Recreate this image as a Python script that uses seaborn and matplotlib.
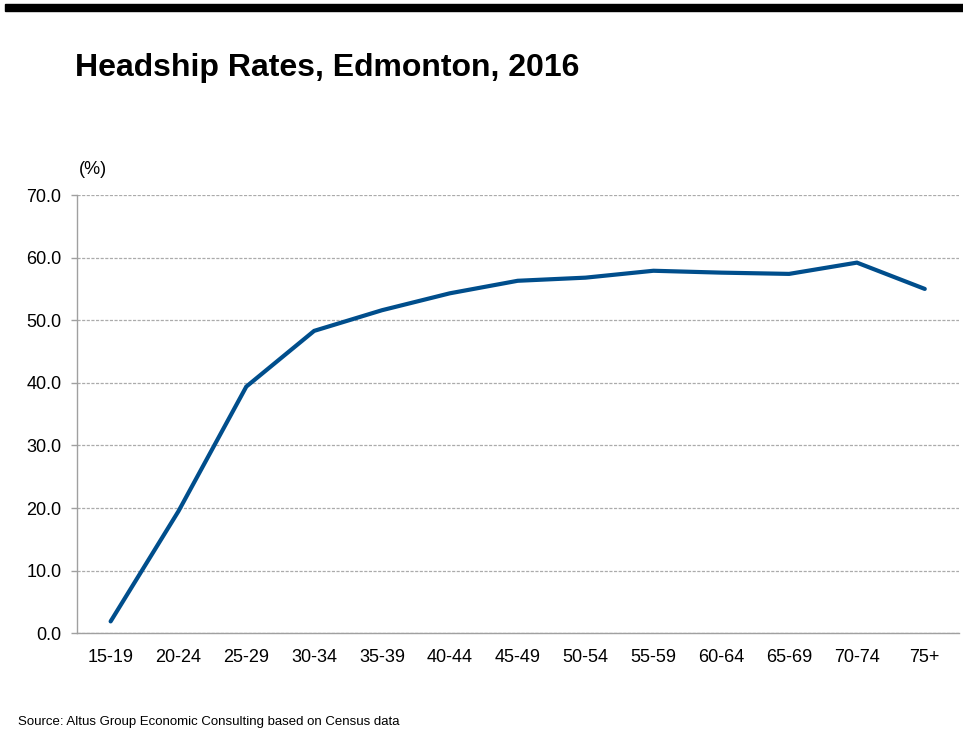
import matplotlib
matplotlib.use("Agg")
import matplotlib.pyplot as plt
from matplotlib.ticker import FixedLocator, MultipleLocator, FormatStrFormatter
from matplotlib.patches import Rectangle
import numpy as np
import pandas as pd
import seaborn as sns

# Headship rates by age group (%)
age_groups = ["15-19", "20-24", "25-29", "30-34", "35-39", "40-44", "45-49",
              "50-54", "55-59", "60-64", "65-69", "70-74", "75+"]
headship_rate = [1.9, 19.5, 39.4, 48.3, 51.6, 54.3, 56.3,
                 56.8, 57.9, 57.6, 57.4, 59.2, 55.0]

title_text = "Headship Rates, Edmonton, 2016"
unit_label = "(%)"
source_text = "Source: Altus Group Economic Consulting based on Census data"

sns.set_theme(style="white")
plt.rcParams["font.family"] = ["Liberation Sans", "DejaVu Sans"]

df = pd.DataFrame({"age": age_groups, "rate": headship_rate})
df["pos"] = np.arange(len(age_groups))

W, H = 963, 747
fig = plt.figure(figsize=(W / 100, H / 100), dpi=100)
ax = fig.add_axes([76.7 / W, 1 - 633.3 / H, (958.7 - 76.7) / W, (633.3 - 195) / H])

line_color = "#004E8C"
sns.lineplot(data=df, x="pos", y="rate", ax=ax, color=line_color,
             linewidth=3.0, solid_capstyle="round", solid_joinstyle="miter",
             zorder=3)

ax.set_xlim(-0.5, len(age_groups) - 0.5)
ax.set_ylim(0, 70)
ax.yaxis.set_major_locator(MultipleLocator(10))
ax.yaxis.set_major_formatter(FormatStrFormatter("%.1f"))

ax.xaxis.set_major_locator(FixedLocator(df["pos"].tolist()))
ax.set_xticklabels(age_groups)
ax.xaxis.set_minor_locator(FixedLocator(list(np.arange(-0.5, len(age_groups), 1.0))))

grid_color = "#ABABAB"
ax.grid(axis="y", which="major", color=grid_color, linestyle=(0, (2.5, 1.2)), linewidth=0.9)
ax.grid(axis="x", visible=False)
ax.set_axisbelow(True)

for side in ["top", "right"]:
    ax.spines[side].set_visible(False)
for side in ["left", "bottom"]:
    ax.spines[side].set_color("#A0A0A0")
    ax.spines[side].set_linewidth(1.0)

ax.tick_params(axis="x", which="major", length=0, pad=11, labelsize=13, labelcolor="black")
ax.tick_params(axis="x", which="minor", length=4, width=1.0, color="#A0A0A0", direction="out")
ax.tick_params(axis="y", which="major", length=4, width=1.0, color="#A0A0A0", direction="out",
               pad=7, labelsize=13, labelcolor="black", left=True)

ax.set_xlabel("")
ax.set_ylabel("")

# header bar, title, unit label and source line
fig.patches.append(Rectangle((5 / W, 1 - 11 / H), 1, 7 / H, transform=fig.transFigure,
                             color="black", zorder=5))
fig.text(75 / W, 1 - 68 / H, title_text, fontsize=23, fontweight="bold",
         va="center", ha="left", color="black")
fig.text(79 / W, 1 - 169 / H, unit_label, fontsize=13, va="center", ha="left", color="black")
fig.text(18 / W, 1 - 722 / H, source_text, fontsize=9.5, va="center", ha="left", color="black")

fig.savefig("out.png", dpi=100)
